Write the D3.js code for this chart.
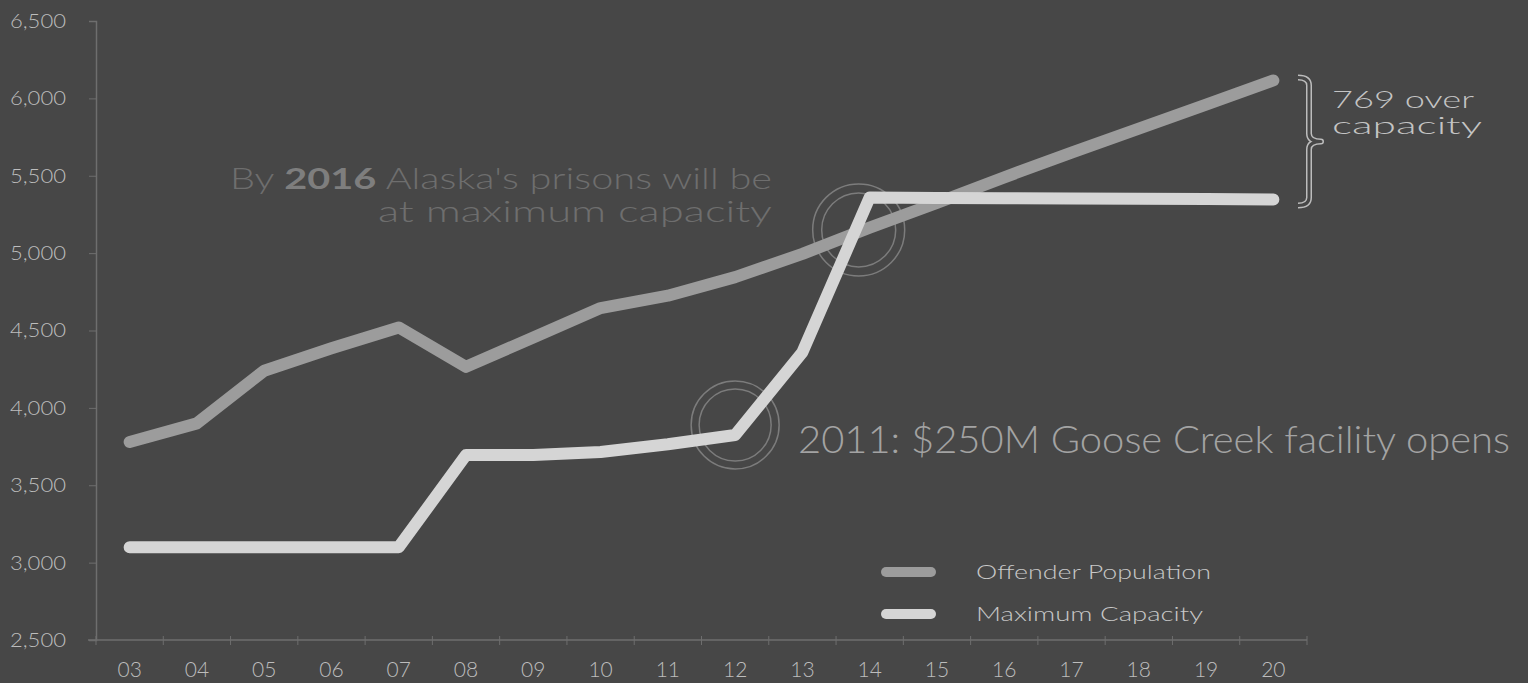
<!DOCTYPE html>
<html>
<head>
<meta charset="utf-8">
<script src="https://cdn.jsdelivr.net/npm/d3@7"></script>
<style>
  html, body { margin: 0; padding: 0; background: #474747; }
  svg { display: block; }
  text { font-family: "Lato", "Open Sans", sans-serif; font-weight: 300; }
</style>
</head>
<body>
<svg id="chart" width="1528" height="683"></svg>
<script>
// Alaska prison population vs. maximum capacity, 2003–2020
const years = ["03","04","05","06","07","08","09","10","11","12","13","14","15","16","17","18","19","20"];
const offenderPopulation = [3780, 3900, 4240, 4385, 4520, 4265, 4455, 4645, 4725, 4845, 4995, 5165, 5325, 5490, 5650, 5805, 5960, 6116];
const maximumCapacity    = [3100, 3100, 3100, 3100, 3100, 3695, 3695, 3715, 3765, 3825, 4360, 5360, 5357, 5355, 5353, 5351, 5349, 5347];
const yTicks = [2500, 3000, 3500, 4000, 4500, 5000, 5500, 6000, 6500];

const svg = d3.select("#chart");
const W = 1528, H = 683;
svg.append("rect").attr("width", W).attr("height", H).attr("fill", "#474747");

const x = d3.scaleBand().domain(years).range([96, 1307]).paddingInner(0).paddingOuter(0);
const cx = d => x(d) + x.bandwidth() / 2;
const y = d3.scaleLinear().domain([2500, 6500]).range([640, 21]);

// stretch a text run to a set width (wide geometric lettering)
function wide(sel, size, width) {
  return sel.style("font-size", size + "px").attr("textLength", width).attr("lengthAdjust", "spacingAndGlyphs");
}

// axes
const axisColor = "#6e6e6e";
const yAxis = svg.append("g").attr("transform", "translate(96,0)")
  .call(d3.axisLeft(y).tickValues(yTicks).tickSize(7).tickPadding(23).tickFormat(d3.format(",")));
yAxis.select(".domain").attr("stroke", axisColor).attr("stroke-width", 1.5);
yAxis.selectAll(".tick line").attr("stroke", axisColor);
yAxis.selectAll(".tick text").attr("fill", "#bdbdbd")
  .style("font-family", "Lato, sans-serif").style("font-weight", 300)
  .each(function () { wide(d3.select(this), 20, 56); });

const xAxis = svg.append("g").attr("transform", "translate(0,640)")
  .call(d3.axisBottom(x).tickSize(0).tickPadding(22));
xAxis.select(".domain").remove();
xAxis.selectAll(".tick text").attr("fill", "#bdbdbd").style("font-size", "21px")
  .style("font-family", "Lato, sans-serif").style("font-weight", 300);
svg.append("line").attr("x1", 88).attr("x2", 1307).attr("y1", 640).attr("y2", 640)
  .attr("stroke", axisColor).attr("stroke-width", 1.5);
// category boundary ticks
svg.append("g").selectAll("line").data(years.concat(["end"]))
  .join("line")
  .attr("x1", (d, i) => 96 + i * x.bandwidth())
  .attr("x2", (d, i) => 96 + i * x.bandwidth())
  .attr("y1", 636).attr("y2", 645)
  .attr("stroke", axisColor).attr("stroke-width", 1);

// highlight rings
const ring = (px, py, r1, r2) => {
  [r1, r2].forEach(r => svg.append("circle").attr("cx", px).attr("cy", py).attr("r", r)
    .attr("fill", "none").attr("stroke", "#7c7c7c").attr("stroke-width", 1.5));
};
ring(cx("12"), y(maximumCapacity[9]) - 10, 44, 36);
ring(cx("14") - 11, y(5150), 46, 37);

// series lines
const line = d3.line().x((d, i) => cx(years[i])).y(d => y(d));
svg.append("path").datum(offenderPopulation).attr("d", line)
  .attr("fill", "none").attr("stroke", "#9c9c9c").attr("stroke-width", 12)
  .attr("stroke-linecap", "round").attr("stroke-linejoin", "round");
svg.append("path").datum(maximumCapacity).attr("d", line)
  .attr("fill", "none").attr("stroke", "#d5d5d5").attr("stroke-width", 12)
  .attr("stroke-linecap", "round").attr("stroke-linejoin", "round");

// headline annotation
const t1 = svg.append("text").attr("x", 772).attr("y", 189).attr("text-anchor", "end").attr("fill", "#6e6e6e");
t1.append("tspan").text("By ");
t1.append("tspan").text("2016").style("font-weight", 700).attr("fill", "#7e7e7e");
t1.append("tspan").text(" Alaska's prisons will be");
wide(t1, 29, 542);
const t2 = svg.append("text").attr("x", 772).attr("y", 222).attr("text-anchor", "end").attr("fill", "#6e6e6e")
  .text("at maximum capacity");
wide(t2, 29, 394);

// facility annotation
const t3 = svg.append("text").attr("x", 798).attr("y", 453).attr("fill", "#a3a3a3")
  .text("2011: $250M Goose Creek facility opens");
wide(t3, 38, 712);

// over-capacity brace
const last = years.length - 1;
const yTop = y(offenderPopulation[last]) - 3, yBot = y(maximumCapacity[last]) + 6;
const ym = (yTop + yBot) / 2, bx0 = 1298, bx1 = 1309, bx2 = 1321, r = 8;
const brace = `M${bx0},${yTop} Q${bx1},${yTop} ${bx1},${yTop + r} L${bx1},${ym - r} Q${bx1},${ym} ${bx2},${ym}
  Q${bx1},${ym} ${bx1},${ym + r} L${bx1},${yBot - r} Q${bx1},${yBot} ${bx0},${yBot}`;
svg.append("path").attr("d", brace).attr("fill", "none").attr("stroke", "#bdbdbd").attr("stroke-width", 6)
  .attr("stroke-linejoin", "round");
svg.append("path").attr("d", brace).attr("fill", "none").attr("stroke", "#474747").attr("stroke-width", 3)
  .attr("stroke-linejoin", "round");

const over = offenderPopulation[last] - maximumCapacity[last];
const t4 = svg.append("text").attr("x", 1332).attr("y", 108).attr("fill", "#c4c4c4").text(`${over} over`);
wide(t4, 23, 142);
const t5 = svg.append("text").attr("x", 1332).attr("y", 134).attr("fill", "#c4c4c4").text("capacity");
wide(t5, 23, 150);

// legend
const legend = [
  { name: "Offender Population", color: "#9c9c9c", yy: 572, w: 235 },
  { name: "Maximum Capacity", color: "#d5d5d5", yy: 614, w: 227 }
];
const lg = svg.append("g");
legend.forEach(d => {
  lg.append("line").attr("x1", 886).attr("x2", 931).attr("y1", d.yy).attr("y2", d.yy)
    .attr("stroke", d.color).attr("stroke-width", 10).attr("stroke-linecap", "round");
  const tx = lg.append("text").attr("x", 976).attr("y", d.yy + 7).attr("fill", "#c8c8c8").text(d.name);
  wide(tx, 20, d.w);
});
</script>
</body>
</html>
